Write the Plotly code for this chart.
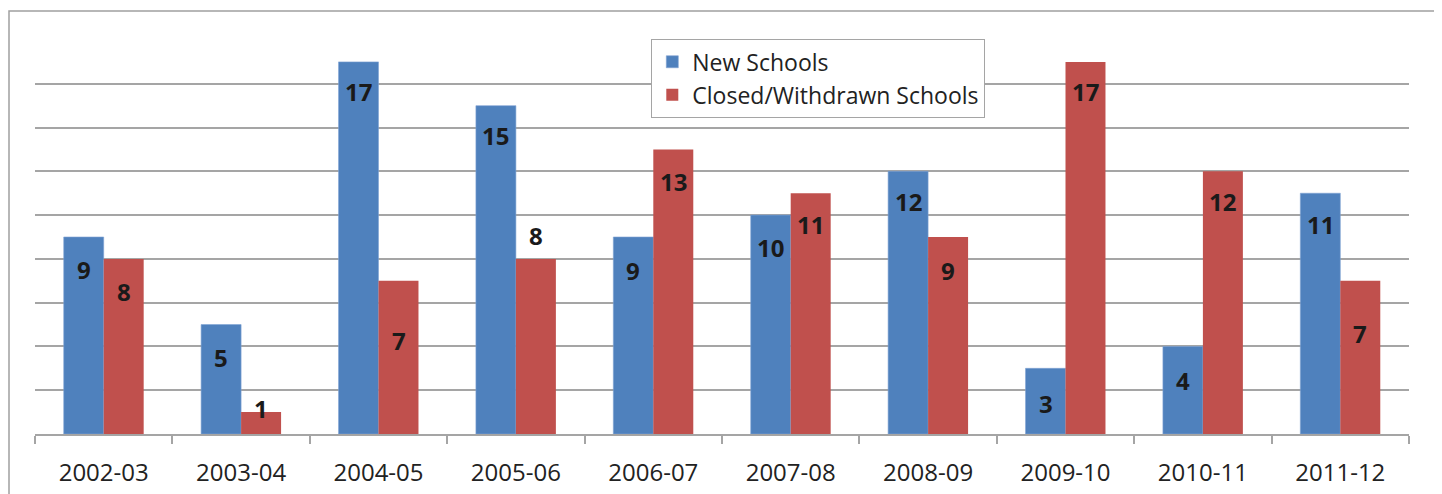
import plotly.graph_objects as go

categories = ["2002-03", "2003-04", "2004-05", "2005-06", "2006-07",
              "2007-08", "2008-09", "2009-10", "2010-11", "2011-12"]
new_schools = [9, 5, 17, 15, 9, 10, 12, 3, 4, 11]
closed_schools = [8, 1, 7, 8, 13, 11, 9, 17, 12, 7]

# label vertical offsets (pixels, relative to bar top)
new_shift = [-32, -33, -30, -30, -33, -32, -30, -35, -34, -31]
closed_shift = [-33, 4, -60, 23, -32, -31, -33, -30, -30, -53]

BLUE = "#4F81BD"
RED = "#C0504D"
GRID = "#A5A5A5"
FONT = "Open Sans"

fig = go.Figure()
fig.add_trace(go.Bar(x=categories, y=new_schools, name="New Schools",
                     marker=dict(color=BLUE, line=dict(color="#7FA3D3", width=0.6))))
fig.add_trace(go.Bar(x=categories, y=closed_schools, name="Closed/Withdrawn Schools",
                     marker=dict(color=RED, line=dict(width=0))))

annotations = []
for c, v, s in zip(categories, new_schools, new_shift):
    annotations.append(dict(x=c, y=v, xref="x", yref="y", text=f"<b>{v}</b>",
                            showarrow=False, xshift=-20, yshift=s, yanchor="middle",
                            font=dict(family=FONT, size=24, color="#1a1a1a")))
for c, v, s in zip(categories, closed_schools, closed_shift):
    a = dict(x=c, y=v, xref="x", yref="y", text=f"<b>{v}</b>",
             showarrow=False, xshift=20, yshift=s, yanchor="middle",
             font=dict(family=FONT, size=24, color="#1a1a1a"))
    if s > 10:
        a["bgcolor"] = "white"
        a["borderpad"] = 2
    annotations.append(a)

fig.update_layout(
    width=1434, height=486,
    margin=dict(l=27, r=33, t=32, b=60, autoexpand=False),
    paper_bgcolor="white", plot_bgcolor="white",
    barmode="group", bargap=0.418, bargroupgap=0,
    font=dict(family=FONT, size=22, color="#222"),
    showlegend=True,
    legend=dict(x=(651 - 35) / 1374, y=(434 - 39) / 394, xanchor="left", yanchor="top",
                bgcolor="white", bordercolor=GRID, borderwidth=1.3,
                font=dict(family=FONT, size=23, color="#222"),
                tracegroupgap=0, traceorder="normal"),
    annotations=annotations,
    shapes=[dict(type="rect", xref="paper", yref="paper",
                 x0=(9 - 35) / 1374, x1=(1436 - 35) / 1374,
                 y0=-0.3, y1=(434 - 11) / 394,
                 line=dict(color="#A0A0A0", width=1.5), layer="below")],
)
fig.update_xaxes(type="category", automargin=False, showline=True, linecolor=GRID,
                 linewidth=1.5, ticks="outside", tickson="boundaries", ticklen=8,
                 tickcolor=GRID, tickwidth=1.5, ticklabelstandoff=16,
                 tickfont=dict(family=FONT, size=24, color="#222"),
                 showgrid=False)
fig.update_yaxes(range=[0, 18], dtick=2, showticklabels=False, automargin=False,
                 showgrid=True, gridcolor=GRID, gridwidth=1.5,
                 zeroline=False, showline=False)

fig.write_html("out.html")
